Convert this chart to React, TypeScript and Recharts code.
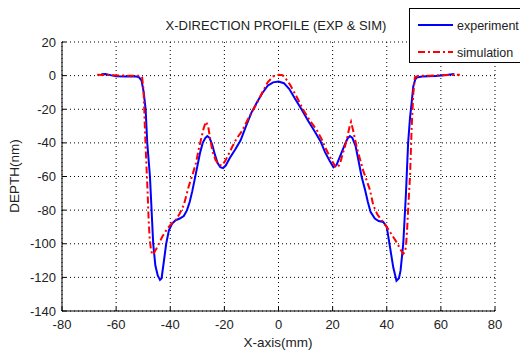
import React from "react";
import { LineChart, Line, XAxis, YAxis, CartesianGrid, Legend } from "recharts";

// measured profile (blue)
const expX = [
  -65.5, -64, -62, -60, -56, -52.5, -51.5, -50.6, -49.8, -49.1, -48.5, -47.5, -46.9, -46.3, -45.5,
  -44.6, -43.8, -43.2, -42.4, -41.5, -40.5, -39.3, -38, -36.5, -35, -33.8, -32.8, -31.9, -31, -30,
  -29, -28, -27, -26.3, -25.5, -24.5, -23.5, -22.5, -21.5, -20.5, -19.5, -18, -16, -14, -12, -10,
  -8, -6, -4, -2, 0, 2, 4, 6, 8.5, 11, 13.5, 15.5, 17.2, 19, 20.3, 21.5, 23, 24.5, 25.5, 26.4,
  27.3, 28.5, 29.5, 30.7, 32, 33, 34, 35.6, 37, 38.7, 40, 41.2, 42.4, 43.6, 44.5, 45.1, 45.6, 46.1,
  46.6, 47.1, 47.5, 47.9, 48.6, 49.2, 49.8, 50.5, 51, 53, 58, 62, 65,
];
const expDepth = [
  0.8, 1, 0.3, -0.3, -0.5, -0.5, -1, -3, -10, -20, -40, -60, -80, -100, -113,
  -119, -121.5, -120.5, -111, -100, -92, -88, -86, -85, -83.5, -80, -75, -69, -62, -54,
  -46, -40, -37, -36, -37, -41, -47, -52, -54.5, -55, -53.5, -49, -44, -38.5, -30, -22,
  -16, -10.5, -6, -4, -3.5, -4.5, -8, -13.5, -20, -27, -33.5, -39, -45.5, -51, -54.5, -53, -47, -41, -37.5, -36,
  -37, -42, -50, -60, -68, -75, -81, -85, -86.5, -87, -90, -102, -114, -122, -120.5, -116, -108, -100,
  -85, -70, -55, -40, -25, -16, -6.5, -2.5, -1.2, -0.5, -0.2, 0.4, 1,
];

// simulated profile (red)
const simX = [
  -67, -62, -56, -51, -50.4, -49.9, -49.6, -49.4, -48.9, -48.4, -48, -47.6, -47.1, -46.6, -46,
  -44.8, -43, -41.1, -39.5, -38, -36.5, -35, -33.2, -31.6, -30.5, -29.5, -28.5, -27.6, -26.8, -26,
  -25.2, -24.4, -23.3, -22, -21, -19.8, -18.5, -17, -15.3, -13.5, -11, -8, -6, -4, -2, 0, 1.5, 3,
  4.3, 6.5, 9.2, 11.5, 14.2, 16, 17.2, 19.7, 21, 21.8, 22.8, 23.8, 24.6, 25.5, 26.3, 26.8, 27.5,
  28.3, 28.9, 30, 31.3, 32.5, 33.8, 35, 36.5, 38.1, 40, 42.4, 44, 44.9, 46.1, 46.6, 47.1, 47.5,
  47.9, 48.3, 48.6, 49.2, 49.8, 50.4, 52, 56, 62, 67,
];
const simDepth = [
  0.5, 0.3, 0, 0, -1, -8, -20, -30, -50, -68, -85, -97, -104, -106.5, -105.5,
  -102, -96, -91, -88, -86, -82, -77, -66, -58, -52, -44, -37, -31, -27.5, -30,
  -38, -45, -50, -53, -53.5, -51, -47, -42, -37, -33, -25, -16.5, -10, -4, -0.5, 0.5, 0.3, -2.5,
  -5.5, -12, -20.5, -26.5, -32.5, -38, -42.5, -50.5, -54, -54.8, -52, -46, -42, -36, -30, -27.5, -32,
  -38, -42.5, -49, -56.5, -62, -68, -77, -82.5, -86, -90, -96, -100, -103, -106, -105, -102, -92,
  -80, -68, -60, -31, -11, -1, 0, 0, 0.3, 0.5,
];

const xTicks = [-80, -60, -40, -20, 0, 20, 40, 60, 80];
const yTicks = [20, 0, -20, -40, -60, -80, -100, -120, -140];

const experiment = expX.map((x, i) => ({ x, depth: expDepth[i] }));
const simulation = simX.map((x, i) => ({ x, depth: simDepth[i] }));

const FONT = '"Liberation Sans", Arial, sans-serif';
const TXT = "#222";

const XTick = (props: any) => {
  const { x, y, payload } = props;
  return (
    <g>
      <line x1={x} x2={x} y1={y - 8} y2={y - 12} stroke="#000" />
      <text x={x} y={y} dy={10} textAnchor="middle" fontSize={13} fill={TXT} fontFamily={FONT}>
        {payload.value}
      </text>
    </g>
  );
};

const YTick = (props: any) => {
  const { x, y, payload } = props;
  return (
    <g>
      <line x1={x + 6} x2={x + 10} y1={y} y2={y} stroke="#000" />
      <text x={x} y={y} dy={4.5} textAnchor="end" fontSize={13} fill={TXT} fontFamily={FONT}>
        {payload.value}
      </text>
    </g>
  );
};

const LegendBox = () => (
  <div
    style={{
      width: 118,
      height: 55,
      border: "1px solid #000",
      background: "#fff",
      boxSizing: "border-box",
    }}
  >
    <svg width={118} height={53}>
      <line x1={8} x2={43} y1={16} y2={16} stroke="#0000ff" strokeWidth={2} />
      <text x={47} y={21} fontSize={12.5} fill={TXT} fontFamily={FONT}>experiment</text>
      <line x1={8} x2={43} y1={43} y2={43} stroke="#ff0000" strokeWidth={2} strokeDasharray="7 3 2 3" />
      <text x={47} y={48} fontSize={12.5} fill={TXT} fontFamily={FONT}>simulation</text>
    </svg>
  </div>
);

export default function App() {
  return (
    <div style={{ position: "absolute", left: 0, top: 0, width: 520, height: 352, overflow: "hidden", background: "#fff" }}>
      <LineChart width={520} height={352} margin={{ top: 42, right: 25, bottom: 0, left: 0 }}>
        <CartesianGrid stroke="#000" strokeDasharray="1 3" horizontalValues={yTicks} verticalValues={xTicks} />
        <XAxis
          type="number"
          dataKey="x"
          domain={[-80, 80]}
          ticks={xTicks}
          height={41}
          tickSize={0}
          tickMargin={8}
          axisLine={{ stroke: "#000" }}
          tick={<XTick />}
          allowDataOverflow
        />
        <YAxis
          type="number"
          domain={[-140, 20]}
          ticks={yTicks}
          width={62}
          tickSize={0}
          tickMargin={6}
          axisLine={{ stroke: "#000" }}
          tick={<YTick />}
          allowDataOverflow
        />
        <Legend
          layout="vertical"
          align="center"
          verticalAlign="middle"
          content={<LegendBox />}
          wrapperStyle={{ left: 409, top: 8, width: 118, height: 55 }}
        />
        <Line
          data={experiment}
          dataKey="depth"
          type="linear"
          stroke="#0000ff"
          strokeWidth={2}
          dot={false}
          isAnimationActive={false}
          name="experiment"
        />
        <Line
          data={simulation}
          dataKey="depth"
          type="linear"
          stroke="#ff0000"
          strokeWidth={2}
          strokeDasharray="7 3 2 3"
          dot={false}
          isAnimationActive={false}
          name="simulation"
        />
        <text x={276} y={30} textAnchor="middle" fontSize={13} fill={TXT} fontFamily={FONT}>
          X-DIRECTION PROFILE (EXP &amp; SIM)
        </text>
        <text x={278} y={347} textAnchor="middle" fontSize={13.5} fill={TXT} fontFamily={FONT}>
          X-axis(mm)
        </text>
        <text
          x={14}
          y={176}
          textAnchor="middle"
          dominantBaseline="central"
          transform="rotate(-90 14 176)"
          fontSize={13.5}
          fill={TXT}
          fontFamily={FONT}
        >
          DEPTH(nm)
        </text>
      </LineChart>
    </div>
  );
}
